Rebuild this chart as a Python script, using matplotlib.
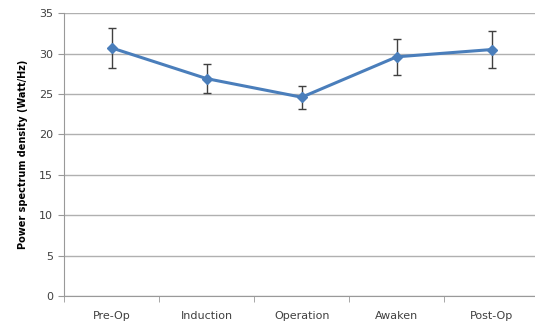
import matplotlib
matplotlib.use("Agg")
import matplotlib.pyplot as plt
import numpy as np

# values
phases = ["Pre-Op", "Induction", "Operation", "Awaken", "Post-Op"]
psd_mean = [30.7, 26.9, 24.6, 29.6, 30.5]
psd_err = [2.5, 1.8, 1.45, 2.2, 2.3]
y_ticks = [0, 5, 10, 15, 20, 25, 30, 35]

fig = plt.figure(figsize=(5.35, 3.29), dpi=100)
ax = fig.add_axes([0.12, 0.10, 0.888, 0.86])

x = np.arange(len(phases))
ax.errorbar(x, psd_mean, yerr=psd_err, color="#4A7EBB", lw=2.2,
            marker="D", markersize=5, ecolor="#404040", elinewidth=1,
            capsize=3, capthick=1, zorder=3)

# Excel-like axes
ax.set_ylim(0, 35)
ax.set_xlim(-0.5, len(phases) - 0.5)
ax.set_yticks(y_ticks)
ax.yaxis.grid(True, color="#b0b0b0", lw=1)
ax.set_axisbelow(True)
ax.set_xticks(x)
ax.set_xticklabels(phases)
ax.set_xticks(np.arange(-0.5, len(phases)), minor=True)
ax.tick_params(axis="x", which="major", length=0, pad=11)
ax.tick_params(axis="x", which="minor", length=4, color="#999999")
ax.tick_params(axis="y", length=4, color="#999999", pad=4)
ax.tick_params(labelsize=8, labelcolor="#404040")

for s in ["top", "right"]:
    ax.spines[s].set_visible(False)
for s in ["left", "bottom"]:
    ax.spines[s].set_color("#999999")

ax.set_ylabel("Power spectrum density (Watt/Hz)", fontsize=7, fontweight="bold", labelpad=8)

plt.savefig("out.png", dpi=100)
plt.close()
